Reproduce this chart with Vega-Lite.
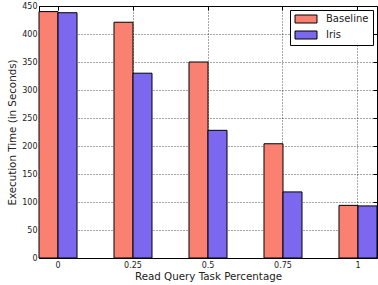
{
  "$schema": "https://vega.github.io/schema/vega-lite/v6.json",
  "width": 338,
  "height": 252,
  "autosize": "none",
  "padding": {"left": 39, "top": 6, "right": 1, "bottom": 27},
  "background": "white",
  "config": {
    "font": "DejaVu Sans",
    "view": {"stroke": "black", "strokeWidth": 1}
  },
  "data": {
    "values": [
      {"pct": "0", "series": "Baseline", "time": 440},
      {"pct": "0", "series": "Iris", "time": 438},
      {"pct": "0.25", "series": "Baseline", "time": 421},
      {"pct": "0.25", "series": "Iris", "time": 330},
      {"pct": "0.5", "series": "Baseline", "time": 350},
      {"pct": "0.5", "series": "Iris", "time": 228},
      {"pct": "0.75", "series": "Baseline", "time": 204},
      {"pct": "0.75", "series": "Iris", "time": 118},
      {"pct": "1", "series": "Baseline", "time": 94},
      {"pct": "1", "series": "Iris", "time": 93}
    ]
  },
  "resolve": {"axis": {"x": "independent", "y": "independent"}},
  "layer": [
    {
      "mark": {"type": "bar", "stroke": "black", "strokeWidth": 1},
      "encoding": {
        "x": {
          "field": "pct",
          "type": "nominal",
          "sort": null,
          "scale": {"paddingInner": 0.4933, "paddingOuter": 0},
          "axis": {
            "title": "Read Query Task Percentage",
            "labelAngle": 0,
            "domain": false,
            "grid": true,
            "bandPosition": 0.5,
            "gridDash": [1, 2],
            "gridColor": "black",
            "gridOpacity": 0.7,
            "tickColor": "black",
            "tickSize": -4,
            "labelPadding": 7,
            "labelFontSize": 8,
            "labelColor": "#222",
            "titleFontSize": 10.3,
            "titleFontWeight": "normal",
            "titleColor": "#222",
            "titlePadding": 2
          }
        },
        "xOffset": {
          "field": "series",
          "sort": ["Baseline", "Iris"],
          "scale": {"paddingInner": 0, "paddingOuter": 0}
        },
        "y": {
          "field": "time",
          "type": "quantitative",
          "scale": {"domain": [0, 450], "nice": false},
          "axis": {
            "title": "Execution Time (in Seconds)",
            "values": [0, 50, 100, 150, 200, 250, 300, 350, 400, 450],
            "domain": false,
            "grid": true,
            "gridDash": [1, 2],
            "gridColor": "black",
            "gridOpacity": 0.7,
            "tickColor": "black",
            "tickSize": -4,
            "labelPadding": 6,
            "labelFontSize": 8,
            "labelColor": "#222",
            "titleFontSize": 10.3,
            "titleFontWeight": "normal",
            "titleColor": "#222",
            "titlePadding": 4
          }
        },
        "color": {
          "field": "series",
          "type": "nominal",
          "scale": {"domain": ["Baseline", "Iris"], "range": ["#FA8072", "#7B68EE"]},
          "legend": {
            "title": null,
            "orient": "top-right",
            "offset": 4,
            "strokeColor": "black",
            "fillColor": "white",
            "padding": 4,
            "symbolType": "M-1,-1L4.5,-1L4.5,1L-1,1Z",
            "symbolSize": 64,
            "symbolOpacity": 1,
            "symbolStrokeColor": "black",
            "symbolStrokeWidth": 1,
            "labelFontSize": 10,
            "labelColor": "#222",
            "labelOffset": 22,
            "rowPadding": 4
          }
        }
      }
    },
    {
      "mark": {"type": "bar", "opacity": 0},
      "encoding": {
        "x": {
          "field": "pct",
          "type": "nominal",
          "sort": null,
          "axis": {
            "orient": "top",
            "title": null,
            "labels": false,
            "domain": false,
            "grid": false,
            "bandPosition": 0.5,
            "tickColor": "black",
            "tickSize": -4
          }
        },
        "xOffset": {"field": "series", "sort": ["Baseline", "Iris"]},
        "y": {
          "field": "time",
          "type": "quantitative",
          "axis": {
            "orient": "right",
            "title": null,
            "labels": false,
            "values": [0, 50, 100, 150, 200, 250, 300, 350, 400, 450],
            "domain": false,
            "grid": false,
            "tickColor": "black",
            "tickSize": -4
          }
        }
      }
    }
  ]
}
